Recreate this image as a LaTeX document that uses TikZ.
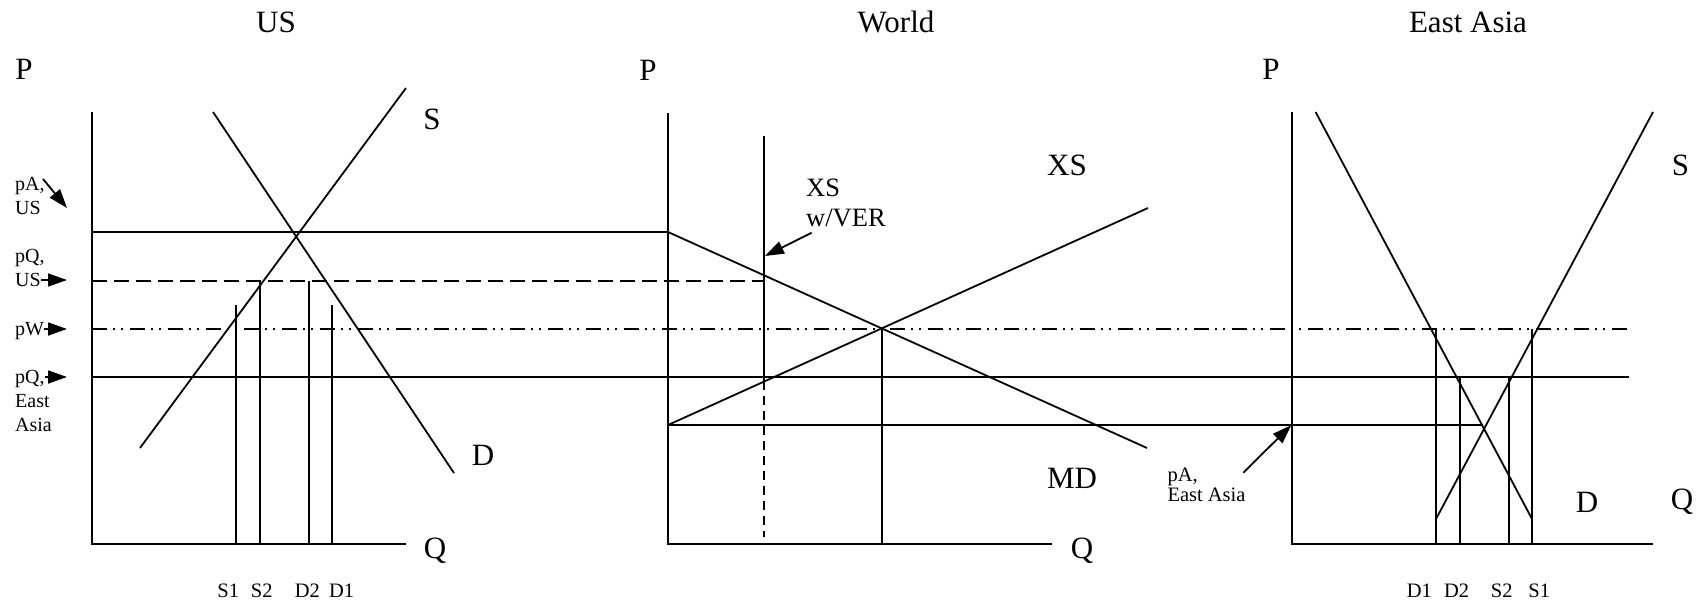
\documentclass[tikz,border=0pt]{standalone}
\usepackage{fontspec}
\setmainfont{Liberation Serif}
\usetikzlibrary{arrows.meta}
\begin{document}
\begin{tikzpicture}[x=1pt,y=-1pt,
  ln/.style={line width=1.8pt},
  dashln/.style={ln, dash pattern=on 15pt off 7pt},
  ddln/.style={ln, dash pattern=on 15pt off 6pt on 2pt off 6pt on 2pt off 7pt},
  vdash/.style={line width=1.6pt, dash pattern=on 9pt off 6pt},
  big/.style={font=\fontsize{31}{36}\selectfont, inner sep=0pt},
  mid/.style={font=\fontsize{20.5}{24}\selectfont, inner sep=0pt},
  sml/.style={font=\fontsize{20}{24}\selectfont, inner sep=0pt},
  arr/.style={line width=1.8pt, -{Triangle[length=19pt,width=13pt]}},
]
\useasboundingbox[fill=white] (0,0) rectangle (1705,603);

% ---------- titles and axis labels ----------
\node[big] (tUS) at (276,22) {US};
\node[big] (tW) at (896,22) {World};
\node[big] (tEA) at (1468,22) {East Asia};
\node[big] (pUS) at (24,69) {P};
\node[big] (pW) at (648,70) {P};
\node[big] (pEA) at (1271,69) {P};

% ---------- US panel ----------
\coordinate (usTop) at (92,112);
\coordinate (usO) at (92,544);
\coordinate (usQ) at (406,544);
\draw[ln] (usTop) -- (usO) -- (usQ);
\coordinate (usSa) at (140,448);
\coordinate (usSb) at (406,88);
\coordinate (usDa) at (213,112);
\coordinate (usDb) at (454,473);
\draw[ln] (usSa) -- (usSb);
\draw[ln] (usDa) -- (usDb);
\node[big] (lUSS) at (432,119) {S};
\node[big] (lUSD) at (483,455) {D};
\node[big] (lUSQ) at (435,551) {Q};

% verticals US
\draw[ln] (236,305) coordinate (usv1) -- (236,544);
\draw[ln] (260,281) coordinate (usv2) -- (260,544);
\draw[ln] (309,281) coordinate (usv3) -- (309,544);
\draw[ln] (332,305) coordinate (usv4) -- (332,544);
\node[mid, anchor=base] (bS1) at (228.3,597) {S1};
\node[mid, anchor=base] (bS2) at (261.7,597) {S2};
\node[mid, anchor=base] (bD2) at (307.3,597) {D2};
\node[mid, anchor=base] (bD1) at (341.7,597) {D1};

% ---------- World panel ----------
\coordinate (wTop) at (668,113);
\coordinate (wO) at (668,544);
\coordinate (wQ) at (1052,544);
\draw[ln] (wTop) -- (wO) -- (wQ);
\node[big] (lWQ) at (1082,551) {Q};

% price lines
\coordinate (pAUSa) at (92,232);
\coordinate (pAUSb) at (668,232);
\coordinate (pQUSa) at (92,281);
\coordinate (pQUSb) at (764,281);
\coordinate (pWa) at (92,329);
\coordinate (pWb) at (1629,329);
\coordinate (pQEAa) at (92,377);
\coordinate (pQEAb) at (1629,377);
\coordinate (pAEAa) at (668,425);
\coordinate (pAEAb) at (1483,425);
\draw[ln] (pAUSa) -- (pAUSb);
\draw[dashln] (pQUSa) -- (pQUSb);
\draw[ddln] (pWa) -- (pWb);
\draw[ln] (pQEAa) -- (pQEAb);
\draw[ln] (pAEAa) -- (pAEAb);

% MD and XS
\coordinate (mdEnd) at (1147,448);
\coordinate (xsEnd) at (1148,208);
\draw[ln] (pAUSb) -- (mdEnd);
\draw[ln] (pAEAa) -- (xsEnd);
\node[big] (lXS) at (1067,165) {XS};
\node[big] (lMD) at (1072,478) {MD};

% VER line
\coordinate (verTop) at (764,136);
\coordinate (verMid) at (764,381);
\coordinate (verBot) at (764,537);
\draw[ln] (verTop) -- (verMid);
\draw[vdash] (verMid) -- (verBot);
% equilibrium vertical
\coordinate (eqW) at (882,329);
\draw[ln] (eqW) -- (882,544);

\node[font=\fontsize{26.5}{30}\selectfont, inner sep=0pt, anchor=base west] (lXSv) at (806,196) {XS};
\node[font=\fontsize{26.5}{30}\selectfont, inner sep=0pt, anchor=base west] (lVER) at (806,226) {w/VER};
\coordinate (verTail) at (811.7,232.7);
\coordinate (verTip) at (765,256);
\draw[arr] (verTail) -- (verTip);

% ---------- East Asia panel ----------
\coordinate (eTop) at (1292,112);
\coordinate (eO) at (1292,544);
\coordinate (eQ) at (1653,544);
\draw[ln] (eTop) -- (eO) -- (eQ);
\coordinate (eDa) at (1315.6,112);
\coordinate (eDb) at (1532,519);
\coordinate (eSa) at (1436,519);
\coordinate (eSb) at (1653,112);
\draw[ln] (eDa) -- (eDb);
\draw[ln] (eSa) -- (eSb);
\node[big] (lEAS) at (1680.5,165) {S};
\node[big] (lEAD) at (1587,502) {D};
\node[big] (lEAQ) at (1682,502) {Q};

\draw[ln] (1436,329) coordinate (ev1) -- (1436,544);
\draw[ln] (1460,377) coordinate (ev2) -- (1460,544);
\draw[ln] (1509,377) coordinate (ev3) -- (1509,544);
\draw[ln] (1532,329) coordinate (ev4) -- (1532,544);
\node[mid, anchor=base] (eD1) at (1419.3,597) {D1};
\node[mid, anchor=base] (eD2) at (1456.7,597) {D2};
\node[mid, anchor=base] (eS2) at (1501.7,597) {S2};
\node[mid, anchor=base] (eS1) at (1539.3,597) {S1};

\node[mid, anchor=base west] (lpAEA) at (1167.3,481.7) {pA,};
\node[mid, anchor=base west] (lEA2) at (1167.3,501.7) {East Asia};
\coordinate (eaTail) at (1243.3,472.7);
\coordinate (eaTip) at (1291.2,425.2);
\draw[arr] (eaTail) -- (eaTip);

% ---------- left labels ----------
\node[sml, anchor=base west] (lpA) at (15,190) {pA,};
\node[sml, anchor=base west] (lUS1) at (15,214) {US};
\node[sml, anchor=base west] (lpQ) at (15,262) {pQ,};
\node[sml, anchor=base west] (lUS2) at (15,286) {US};
\node[sml, anchor=base west] (lpWl) at (15,335) {pW};
\node[sml, anchor=base west] (lpQ2) at (15,383) {pQ,};
\node[sml, anchor=base west] (lEast) at (15,407) {East};
\node[sml, anchor=base west] (lAsia) at (15,431) {Asia};

\coordinate (aTip1) at (67,208);
\coordinate (aTip2) at (67,280);
\coordinate (aTip3) at (67,329);
\coordinate (aTip4) at (67,377);
\draw[arr] (43,179) -- (aTip1);
\draw[arr] (lUS2.east |- aTip2) -- (aTip2);
\draw[arr] (lpWl.east |- aTip3) -- (aTip3);
\draw[arr] (lpQ2.east |- aTip4) -- (aTip4);
\end{tikzpicture}
\end{document}
